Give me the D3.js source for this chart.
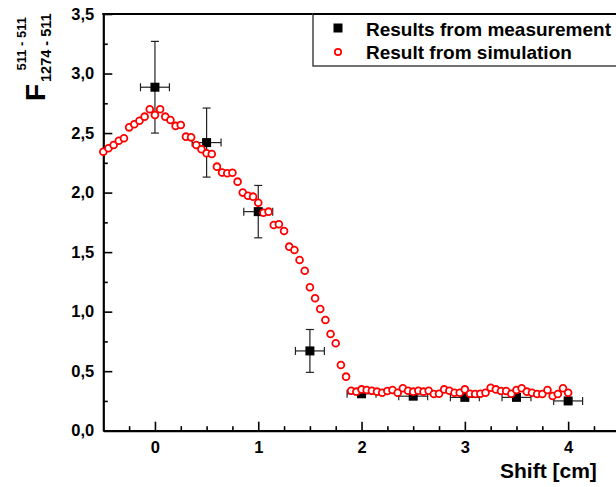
<!DOCTYPE html>
<html>
<head>
<meta charset="utf-8">
<script src="https://cdn.jsdelivr.net/npm/d3@7"></script>
<style>
  html, body { margin: 0; padding: 0; background: #fff; }
  svg { display: block; }
  text { font-family: "Liberation Sans", Arial, sans-serif; font-weight: bold; fill: #000; }
</style>
</head>
<body>
<svg id="chart" width="616" height="487"></svg>
<script>
// Measured coincidence ratio vs. source shift
const measX    = [0, 0.5, 1, 1.5, 2, 2.5, 3, 3.5, 4];
const measY    = [2.885, 2.42, 1.84, 0.67, 0.31, 0.29, 0.28, 0.28, 0.25];
const measYErr = [0.385, 0.29, 0.22, 0.18, 0.02, 0.02, 0.02, 0.02, 0.02];
const measXErr = [0.14, 0.14, 0.14, 0.14, 0.14, 0.14, 0.14, 0.14, 0.14];

// Simulated ratio, sampled every 0.05 cm
const simX = [
  -0.5, -0.45, -0.4, -0.35, -0.3, -0.25, -0.2, -0.15, -0.1, -0.05,
  0, 0.05, 0.1, 0.15, 0.2, 0.25, 0.3, 0.35, 0.4, 0.45,
  0.5, 0.55, 0.6, 0.65, 0.7, 0.75, 0.8, 0.85, 0.9, 0.95,
  1, 1.05, 1.1, 1.15, 1.2, 1.25, 1.3, 1.35, 1.4, 1.45,
  1.5, 1.55, 1.6, 1.65, 1.7, 1.75, 1.8, 1.85, 1.9, 1.95,
  2, 2.05, 2.1, 2.15, 2.2, 2.25, 2.3, 2.35, 2.4, 2.45,
  2.5, 2.55, 2.6, 2.65, 2.7, 2.75, 2.8, 2.85, 2.9, 2.95,
  3, 3.05, 3.1, 3.15, 3.2, 3.25, 3.3, 3.35, 3.4, 3.45,
  3.5, 3.55, 3.6, 3.65, 3.7, 3.75, 3.8, 3.85, 3.9, 3.95, 4
];
const simY = [
  2.343, 2.372, 2.40, 2.436, 2.456, 2.548, 2.574, 2.604, 2.638, 2.70,
  2.652, 2.70, 2.638, 2.61, 2.56, 2.568, 2.47, 2.464, 2.40, 2.364,
  2.33, 2.324, 2.218, 2.168, 2.162, 2.167, 2.092, 2.0, 1.974, 1.966,
  1.915, 1.831, 1.84, 1.728, 1.734, 1.677, 1.546, 1.518, 1.434, 1.344,
  1.205, 1.112, 1.022, 0.93, 0.812, 0.734, 0.552, 0.454, 0.336, 0.328,
  0.347, 0.342, 0.336, 0.328, 0.319, 0.333, 0.342, 0.319, 0.356, 0.336,
  0.328, 0.336, 0.328, 0.336, 0.308, 0.31, 0.347, 0.336, 0.319, 0.319,
  0.347, 0.31, 0.308, 0.31, 0.319, 0.361, 0.347, 0.333, 0.333, 0.31,
  0.342, 0.356, 0.328, 0.319, 0.308, 0.308, 0.342, 0.292, 0.308, 0.356, 0.319
];

const xMajorTicks = [0, 1, 2, 3, 4];
const xTickLabels = ["0", "1", "2", "3", "4"];
const yMajorTicks = [0, 0.5, 1, 1.5, 2, 2.5, 3, 3.5];
const yTickLabels = ["0,0", "0,5", "1,0", "1,5", "2,0", "2,5", "3,0", "3,5"];
const legendLabels = ["Results from measurement", "Result from simulation"];

const svg = d3.select("#chart");

const x = d3.scaleLinear().domain([-0.5, 4.5]).range([103.3, 619.8]);
const y = d3.scaleLinear().domain([0, 3.5]).range([430.7, 14]);

const xMinor = d3.range(-0.25, 4.5, 0.25).filter(v => Math.abs(v - Math.round(v)) > 1e-6);
const yMinor = d3.range(0.25, 3.5, 0.5);

// minor ticks (inward, no labels)
svg.append("g")
  .attr("transform", `translate(0,${y(0)})`)
  .call(d3.axisBottom(x).tickValues(xMinor).tickSizeInner(-4.5).tickSizeOuter(0).tickFormat(""))
  .call(g => g.select(".domain").remove())
  .call(g => g.selectAll("line").attr("stroke", "#000").attr("stroke-width", 1.6));

svg.append("g")
  .attr("transform", `translate(${x(-0.5)},0)`)
  .call(d3.axisLeft(y).tickValues(yMinor).tickSizeInner(-4.5).tickSizeOuter(0).tickFormat(""))
  .call(g => g.select(".domain").remove())
  .call(g => g.selectAll("line").attr("stroke", "#000").attr("stroke-width", 1.6));

// major axes
const xAxis = svg.append("g")
  .attr("transform", `translate(0,${y(0)})`)
  .call(d3.axisBottom(x).tickValues(xMajorTicks).tickSizeInner(-9).tickSizeOuter(0)
    .tickPadding(11).tickFormat((d, i) => xTickLabels[i]));
xAxis.select(".domain").attr("stroke", "#000").attr("stroke-width", 2.2);
xAxis.selectAll("line").attr("stroke", "#000").attr("stroke-width", 1.6);
xAxis.selectAll("text").attr("font-size", 16.5).attr("font-family", null).attr("fill", "#000");

const yAxis = svg.append("g")
  .attr("transform", `translate(${x(-0.5)},0)`)
  .call(d3.axisLeft(y).tickValues(yMajorTicks).tickSizeInner(-9).tickSizeOuter(0)
    .tickPadding(9).tickFormat((d, i) => yTickLabels[i]));
yAxis.select(".domain").attr("stroke", "#000").attr("stroke-width", 2.2);
yAxis.selectAll("line").attr("stroke", "#000").attr("stroke-width", 1.6);
yAxis.selectAll("text").attr("font-size", 16.5).attr("font-family", null).attr("fill", "#000");

// top frame
svg.append("line")
  .attr("x1", x(-0.5) - 1).attr("x2", x(4.5))
  .attr("y1", y(3.5)).attr("y2", y(3.5))
  .attr("stroke", "#000").attr("stroke-width", 2.2);

// measurement error bars
const meas = measX.map((v, i) => ({ x: v, y: measY[i], ex: measXErr[i], ey: measYErr[i] }));
const eb = svg.append("g").attr("stroke", "#222").attr("stroke-width", 1.2);
const cap = 4;
meas.forEach(d => {
  const cx = x(d.x), cy = y(d.y);
  eb.append("line").attr("x1", x(d.x - d.ex)).attr("x2", x(d.x + d.ex)).attr("y1", cy).attr("y2", cy);
  eb.append("line").attr("x1", x(d.x - d.ex)).attr("x2", x(d.x - d.ex)).attr("y1", cy - cap).attr("y2", cy + cap);
  eb.append("line").attr("x1", x(d.x + d.ex)).attr("x2", x(d.x + d.ex)).attr("y1", cy - cap).attr("y2", cy + cap);
  eb.append("line").attr("x1", cx).attr("x2", cx).attr("y1", y(d.y + d.ey)).attr("y2", y(d.y - d.ey));
  eb.append("line").attr("x1", cx - cap).attr("x2", cx + cap).attr("y1", y(d.y + d.ey)).attr("y2", y(d.y + d.ey));
  eb.append("line").attr("x1", cx - cap).attr("x2", cx + cap).attr("y1", y(d.y - d.ey)).attr("y2", y(d.y - d.ey));
});

const sq = 9;
svg.append("g").selectAll("rect").data(meas).join("rect")
  .attr("x", d => x(d.x) - sq / 2).attr("y", d => y(d.y) - sq / 2)
  .attr("width", sq).attr("height", sq).attr("fill", "#000");

// simulation markers
const sim = simX.map((v, i) => ({ x: v, y: simY[i] }));
svg.append("g").selectAll("circle").data(sim).join("circle")
  .attr("cx", d => x(d.x)).attr("cy", d => y(d.y)).attr("r", 3.4)
  .attr("fill", "#fff").attr("stroke", "#f00").attr("stroke-width", 1.8);

// legend
const lg = svg.append("g");
lg.append("rect").attr("x", 313).attr("y", 14).attr("width", 320).attr("height", 52)
  .attr("fill", "#fff").attr("stroke", "#444").attr("stroke-width", 1.5);
lg.append("line").attr("x1", 313).attr("x2", 616).attr("y1", 14).attr("y2", 14)
  .attr("stroke", "#000").attr("stroke-width", 2.2);
lg.append("rect").attr("x", 338 - 4.5).attr("y", 28 - 4.5).attr("width", 9).attr("height", 9).attr("fill", "#000");
lg.append("circle").attr("cx", 338).attr("cy", 52).attr("r", 3.2)
  .attr("fill", "#fff").attr("stroke", "#f00").attr("stroke-width", 1.7);
lg.append("text").attr("x", 366).attr("y", 35.5).attr("font-size", 19).text(legendLabels[0]);
lg.append("text").attr("x", 366).attr("y", 59).attr("font-size", 19).text(legendLabels[1]);

// x-axis title
svg.append("text").attr("x", 500).attr("y", 478).attr("font-size", 21).text("Shift [cm]");

// y-axis title: F with stacked sub/superscript, rotated
const yt = svg.append("g").attr("transform", "translate(45,101) rotate(-90)");
yt.append("text").attr("x", 0).attr("y", 0).attr("font-size", 28).text("F");
yt.append("text").attr("x", 19).attr("y", 6).attr("font-size", 14.5).text("1274 - 511");
yt.append("text").attr("x", 84).attr("y", -19).attr("font-size", 13)
  .attr("text-anchor", "end").text("511 - 511");
</script>
</body>
</html>
